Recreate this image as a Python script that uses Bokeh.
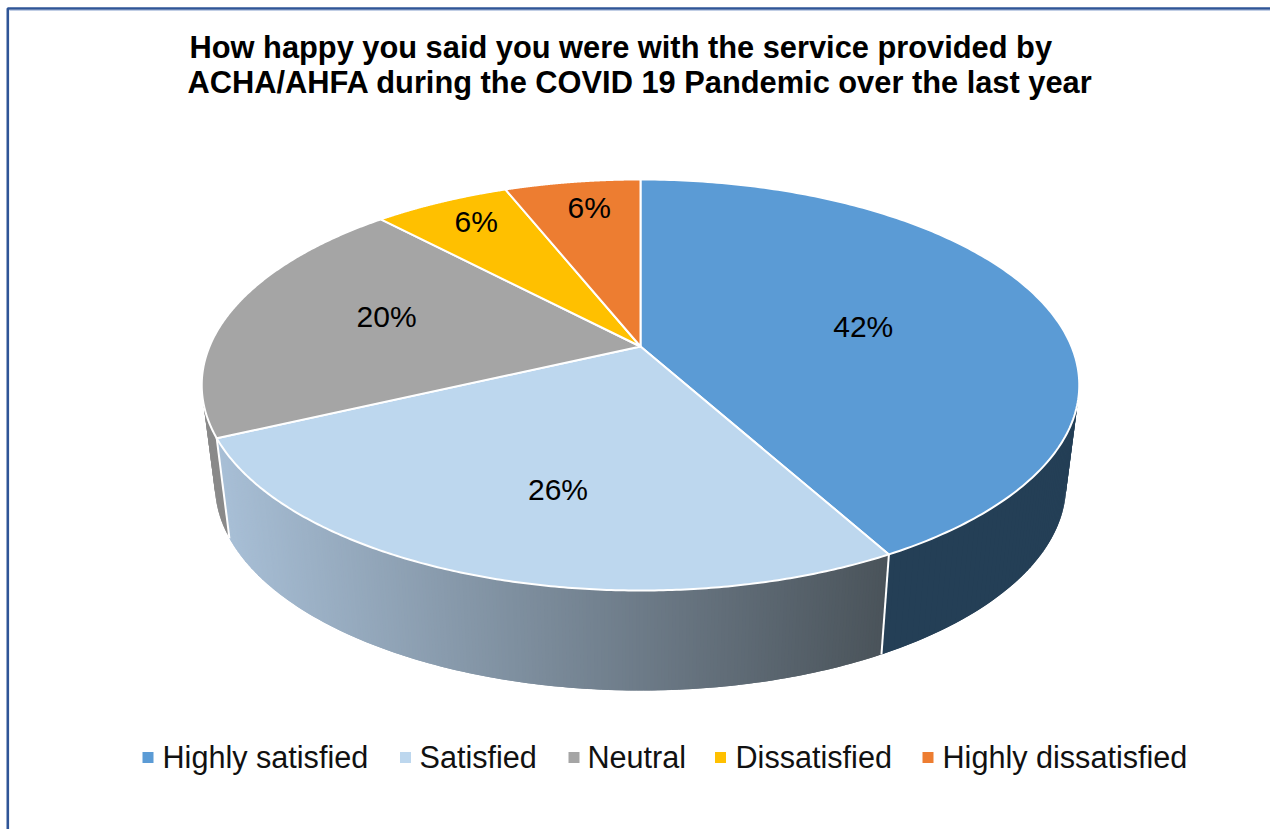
import numpy as np
from bokeh.embed import file_html
from bokeh.models import Range1d
from bokeh.plotting import figure
from bokeh.resources import INLINE
from bokeh.core.properties import value

# Survey results
categories = ["Highly satisfied", "Satisfied", "Neutral", "Dissatisfied", "Highly dissatisfied"]
shares = [42, 26, 20, 6, 6]
share_labels = ["42%", "26%", "20%", "6%", "6%"]
top_colors = ["#5B9BD5", "#BDD7EE", "#A5A5A5", "#FFC000", "#ED7D31"]
title_lines = ["How happy you said you were with the service provided by",
               "ACHA/AHFA during the COVID 19 Pandemic over the last year"]

# Layout of the page, in pixels
WIDTH, HEIGHT = 1270, 829
CX, CY = 640.0, 346.0       # where all the slices meet
PERSP = 0.1873              # foreshortening of the disc towards the back
RX, RY = 431.0, 133.5       # disc radii before foreshortening
DEPTH = 100.0               # height of the cylinder wall
BOTTOM_SCALE = 0.97         # lower rim is slightly narrower than the upper one
LABEL_OFFSETS = [(0.58, -13, 8), (0.60, 7, 16), (0.62, 3, -7), (0.72, -15, -17), (0.80, 5, -3)]
LEGEND_MARKERS = [147.5, 405, 573.5, 720, 927.5]
LEGEND_TEXTS = [162, 419, 587, 735, 942]
WALL_DARK = "#243F56"
WALL_GREY = "#8A8A8A"
WALL_LIGHT_END = np.array([0xA8, 0xBF, 0xD6])
WALL_DARK_END = np.array([0x4A, 0x53, 0x5A])


def project(angle, radius=1.0):
    """Map a clockwise angle from twelve o'clock on the disc to page pixels."""
    u = radius * np.sin(angle)
    v = radius * np.cos(angle)
    den = 1 + PERSP * v
    return CX + RX * u / den, (CY - RY * v) / den


def lower(angle):
    x, y = project(angle)
    return CX + BOTTOM_SCALE * (x - CX), y + DEPTH


def quad(a0, a1):
    """One narrow piece of wall between two angles."""
    t = np.array([a0, a1])
    xt, yt = project(t)
    xb, yb = lower(t)
    return list(xt) + list(xb[::-1]), list(yt) + list(yb[::-1])


def wall_strips(a0, a1, n):
    """Overlapping pieces of wall, so that no seam shows between them."""
    grid = np.linspace(a0, a1, n + 1)
    mids, xs, ys = [], [], []
    for i in range(n):
        x, y = quad(grid[i], grid[min(i + 2, n)])
        xs.append(x)
        ys.append(y)
        mids.append((grid[i] + grid[i + 1]) / 2)
    return np.array(mids), xs, ys


edges = 2 * np.pi * np.cumsum([0] + shares) / sum(shares)

p = figure(width=WIDTH, height=HEIGHT, output_backend="svg", toolbar_location=None,
           x_range=Range1d(0, WIDTH), y_range=Range1d(HEIGHT, 0),
           min_border=0, outline_line_color=None, background_fill_color="white",
           border_fill_color="white")
p.axis.visible = False
p.grid.visible = False

# Chart frame: only the top and left edges fall inside the page
p.line([7.3, 7.3, WIDTH], [HEIGHT, 8, 8], line_color="#2F5597", line_width=2.6)
p.line([WIDTH, 9], [9.8, 9.8], line_color="#9DB3D6", line_width=0.8)

# Cylinder walls, back to front
_, xs, ys = wall_strips(edges[2], edges[3], 60)
p.patches(xs, ys, fill_color=WALL_GREY, line_color=None)
_, xs, ys = wall_strips(edges[0] + 0.8, edges[1], 120)
p.patches(xs, ys, fill_color=WALL_DARK, line_color=None)

# The front wall shades from light on the left to dark on the right
mids, xs, ys = wall_strips(edges[1], edges[2], 240)
sx0, _ = lower(edges[2])
sx1, _ = lower(edges[1])
fracs = (lower(mids)[0] - sx0) / (sx1 - sx0)
cols = ["#%02X%02X%02X" % tuple(int(round(q)) for q in WALL_LIGHT_END + f * (WALL_DARK_END - WALL_LIGHT_END))
        for f in fracs]
p.patches(xs, ys, fill_color=cols, line_color=None)

# White seams where the walls of neighbouring slices meet
for a in (edges[1], edges[2]):
    xt, yt = project(a)
    xb, yb = lower(a)
    p.line([xt, xb], [yt, yb], line_color="white", line_width=2)

# Top face of the pie
for i, colour in enumerate(top_colors):
    t = np.linspace(edges[i], edges[i + 1], 200)
    xt, yt = project(t)
    p.patch([CX] + list(xt), [CY] + list(yt), fill_color=colour,
            line_color="white", line_width=2, line_join="round")

# Slice labels
lx, ly = [], []
for i, (frac, dx, dy) in enumerate(LABEL_OFFSETS):
    mid = (edges[i] + edges[i + 1]) / 2
    px, py = project(mid, frac)
    lx.append(float(px) + dx)
    ly.append(float(py) + dy)
p.text(lx, ly, text=share_labels, text_align="center", text_baseline="middle",
       text_font=value("Liberation Sans"), text_font_size="30px", text_color="#000000")

# Title
p.text([189, 187], [47, 82], text=title_lines, text_align="left", text_baseline="alphabetic",
       text_font=value("Liberation Sans"), text_font_style="bold", text_font_size="30.8px",
       text_color="#000000")

# Legend row
p.scatter(LEGEND_MARKERS, [757] * 5, marker="square", size=11, fill_color=top_colors, line_color=None)
p.text(LEGEND_TEXTS, [756] * 5, text=categories, text_align="left", text_baseline="alphabetic",
       text_font=value("Liberation Sans"), text_font_size="30.6px", text_color="#111111")

open("out.html", "w").write(file_html(p, INLINE))
